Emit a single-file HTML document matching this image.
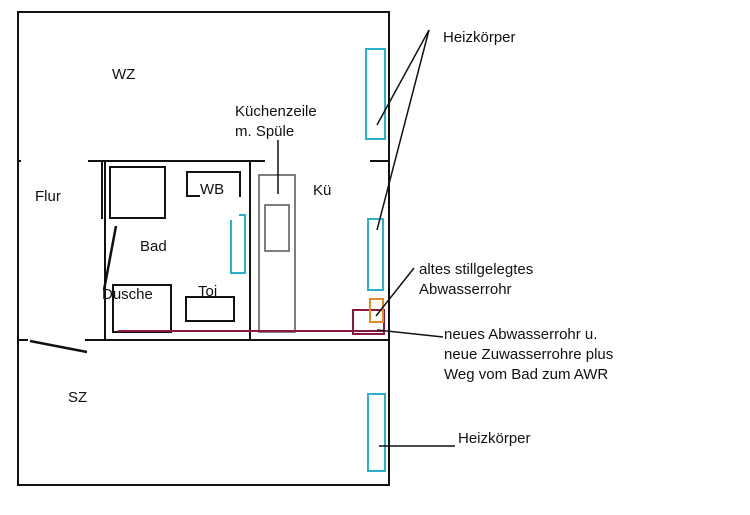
<!DOCTYPE html>
<html><head><meta charset="utf-8"><style>
html,body{margin:0;padding:0;background:#fff;width:750px;height:515px;overflow:hidden}
svg text{font-family:"Liberation Sans",sans-serif;fill:#111}
</style></head><body>
<svg width="750" height="515" viewBox="0 0 750 515" xmlns="http://www.w3.org/2000/svg">
<g stroke="#111" stroke-width="2" fill="none">
<rect x="18" y="12" width="371" height="473"/>
<line x1="17" y1="161" x2="21" y2="161"/>
<line x1="88" y1="161" x2="265" y2="161"/>
<line x1="370" y1="161" x2="389" y2="161"/>
<line x1="17" y1="340" x2="28" y2="340"/>
<line x1="85" y1="340" x2="389" y2="340"/>
<line x1="102" y1="162" x2="102" y2="219"/>
<line x1="105" y1="162" x2="105" y2="340"/>
<line x1="250" y1="162" x2="250" y2="340"/>
<line x1="30" y1="341" x2="87" y2="352" stroke-width="2.5"/>
<line x1="116" y1="226" x2="104" y2="290" stroke-width="2.5"/>
<rect x="110" y="167" width="55" height="51"/>
<polyline points="200,196 187,196 187,172 240,172 240,197"/>
<rect x="113" y="285" width="58" height="47"/>
<rect x="186" y="297" width="48" height="24"/>
</g>
<g stroke="#555" stroke-width="1.5" fill="none">
<rect x="259" y="175" width="36" height="157"/>
<rect x="265" y="205" width="24" height="46"/>
<line x1="278" y1="140" x2="278" y2="194" stroke="#111"/>
</g>
<g stroke="#2ab0c8" stroke-width="2" fill="none">
<rect x="366" y="49" width="19" height="90"/>
<rect x="368" y="219" width="15" height="71"/>
<rect x="368" y="394" width="17" height="77"/>
<polyline points="231,220 231,273 245,273 245,215 239,215"/>
</g>
<g stroke="#8a1840" stroke-width="2" fill="none">
<line x1="118" y1="331" x2="383" y2="331"/>
<rect x="353" y="310" width="31" height="24"/>
</g>
<rect x="370" y="299" width="13" height="23" stroke="#e08a20" stroke-width="2" fill="none"/>
<g stroke="#111" stroke-width="1.5">
<line x1="429" y1="30" x2="377" y2="125"/>
<line x1="429" y1="30" x2="377" y2="230"/>
<line x1="376" y1="316" x2="414" y2="268"/>
<line x1="377" y1="330" x2="443" y2="337"/>
<line x1="379" y1="446" x2="455" y2="446"/>
</g>
<g font-size="15">
<text x="443" y="42">Heizkörper</text>
<text x="112" y="79">WZ</text>
<text x="235" y="116">Küchenzeile</text>
<text x="235" y="136">m. Spüle</text>
<text x="35" y="201">Flur</text>
<text x="200" y="194">WB</text>
<text x="313" y="195">Kü</text>
<text x="140" y="251">Bad</text>
<text x="102" y="299">Dusche</text>
<text x="198" y="296">Toi</text>
<text x="68" y="402">SZ</text>
<text x="419" y="274">altes stillgelegtes</text>
<text x="419" y="294">Abwasserrohr</text>
<text x="444" y="339">neues Abwasserrohr u.</text>
<text x="444" y="359">neue Zuwasserrohre plus</text>
<text x="444" y="379">Weg vom Bad zum AWR</text>
<text x="458" y="443">Heizkörper</text>
</g>
</svg>
</body></html>
